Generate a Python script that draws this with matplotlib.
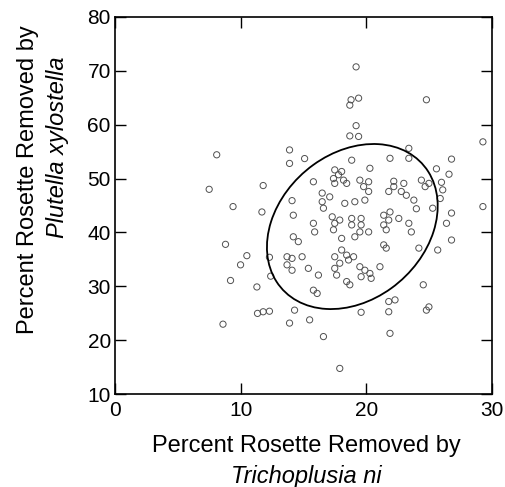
import numpy as np
import matplotlib
matplotlib.use("Agg")
import matplotlib.pyplot as plt
from matplotlib.patches import Ellipse

# Percent rosette removed by Trichoplusia ni (x) and Plutella xylostella (y)
tni = [19.2, 18.8, 19.4, 18.7, 24.8, 19.2, 18.7, 19.4, 29.3, 13.9,
       13.9, 8.1, 15.1, 18.85, 20.3, 23.4, 21.9, 23.4, 26.8, 25.6,
       26.6, 7.5, 11.8, 9.4, 11.7, 14.1, 17.5, 18.05, 17.8, 17.4,
       18.2, 15.8, 17.5, 18.45, 19.5, 20.2, 19.8, 22.2, 23.0, 22.2,
       24.4, 25.0, 24.7, 26.0, 26.1, 21.8, 22.8, 23.2, 23.8, 24.0,
       25.9, 25.3, 26.8, 29.3, 21.9, 22.6, 16.5, 16.5, 16.6, 17.1,
       18.3, 19.1, 19.9, 20.2, 14.2, 17.3, 17.9, 17.5, 18.85, 19.6,
       18.85, 19.6, 19.5, 21.4, 21.8, 21.4, 21.6, 15.8, 15.9, 17.4,
       19.1, 20.2, 14.2, 14.6, 18.05, 21.4, 21.6, 18.05, 17.5, 18.45,
       19.0, 17.9, 18.6, 13.7, 14.1, 14.9, 13.7, 14.1, 15.4, 16.2,
       17.5, 17.65, 19.5, 19.9, 20.3, 19.6, 20.4, 21.1, 18.45, 18.7,
       15.8, 16.1, 14.3, 15.5, 19.6, 21.8, 16.6, 17.9, 26.4, 26.8,
       25.7, 24.2, 23.4, 23.6, 24.55, 25.0, 24.8, 22.3, 21.9, 8.8,
       10.5, 10.0, 9.2, 11.3, 11.35, 11.8, 12.3, 8.6, 12.3, 12.4,
       13.9, 21.8]
pxy = [70.7, 64.6, 64.9, 63.6, 64.6, 59.8, 57.9, 57.8, 56.8, 55.3,
       52.8, 54.4, 53.7, 53.4, 51.9, 55.6, 53.75, 53.75, 53.6, 51.8,
       50.8, 48.0, 48.7, 44.8, 43.8, 45.9, 51.6, 51.3, 50.7, 50.0,
       49.7, 49.4, 49.1, 49.1, 49.7, 49.4, 48.5, 49.5, 49.1, 48.5,
       49.7, 49.1, 48.5, 49.3, 47.9, 47.6, 47.6, 46.9, 46.0, 44.4,
       46.3, 44.5, 43.6, 44.8, 43.8, 42.6, 47.3, 45.7, 44.5, 46.6,
       45.4, 45.7, 46.0, 47.6, 43.2, 42.9, 42.3, 41.7, 42.6, 42.6,
       41.4, 41.4, 40.1, 43.2, 42.3, 41.4, 40.5, 41.7, 40.1, 40.5,
       39.2, 40.1, 39.2, 38.3, 38.9, 37.7, 37.1, 36.75, 35.5, 35.8,
       35.5, 34.3, 34.9, 35.5, 35.2, 35.5, 34.0, 33.0, 33.35, 32.1,
       33.35, 32.1, 33.65, 33.0, 32.4, 31.8, 31.5, 33.65, 30.9, 30.3,
       29.3, 28.7, 25.6, 23.8, 25.2, 25.3, 20.7, 14.8, 41.7, 38.6,
       36.75, 37.1, 41.7, 40.1, 30.3, 26.2, 25.6, 27.5, 21.3, 37.8,
       35.7, 34.0, 31.1, 29.9, 25.0, 25.3, 25.4, 23.0, 35.4, 31.9,
       23.2, 27.2]

# Bivariate ellipse: centre, half-extents along x and y, correlation
ell_center = (18.9, 41.1)
ell_half_x = 6.8
ell_half_y = 15.3
ell_corr = 0.25

x_ticks = [0, 10, 20, 30]
y_ticks = [10, 20, 30, 40, 50, 60, 70, 80]

fig = plt.figure(figsize=(5.06, 4.87), dpi=100)
ax = fig.add_axes([115 / 506, 1 - 394.3 / 487, (491.7 - 115) / 506, (394.3 - 16.7) / 487])

ax.scatter(tni, pxy, s=20, facecolors="none", edgecolors="#505050",
           linewidths=0.7, zorder=2)

# ellipse from covariance
cov = np.array([[ell_half_x ** 2, ell_corr * ell_half_x * ell_half_y],
                [ell_corr * ell_half_x * ell_half_y, ell_half_y ** 2]])
vals, vecs = np.linalg.eigh(cov)
order = vals.argsort()[::-1]
vals, vecs = vals[order], vecs[:, order]
angle = np.degrees(np.arctan2(vecs[1, 0], vecs[0, 0]))
ell = Ellipse(ell_center, 2 * np.sqrt(vals[0]), 2 * np.sqrt(vals[1]),
              angle=angle, facecolor="none", edgecolor="black", lw=1.3, zorder=3)
ax.add_patch(ell)

ax.set_xlim(0, 30)
ax.set_ylim(10, 80)
ax.set_xticks(x_ticks)
ax.set_yticks(y_ticks)
ax.tick_params(direction="in", length=8, width=1, top=True, right=True,
               labelsize=15, color="black")
ax.tick_params(axis="x", pad=5)
ax.tick_params(axis="y", pad=3)
for s in ax.spines.values():
    s.set_linewidth(1.2)
for lab in ax.get_xticklabels() + ax.get_yticklabels():
    lab.set_fontfamily("Liberation Sans")

fam = "Liberation Sans"
fig.text(306 / 506, 1 - 446 / 487, "Percent Rosette Removed by", ha="center",
         va="center", fontsize=17, family=fam)
fig.text(306 / 506, 1 - 476 / 487, "Trichoplusia ni", ha="center",
         va="center", fontsize=17, family=fam, style="italic")
fig.text(28 / 506, 1 - 180 / 487, "Percent Rosette Removed by", ha="center",
         va="center", fontsize=17, family=fam, rotation=90)
fig.text(58 / 506, 1 - 147 / 487, "Plutella xylostella", ha="center",
         va="center", fontsize=17, family=fam, style="italic", rotation=90)

fig.savefig("out.png", dpi=100)
